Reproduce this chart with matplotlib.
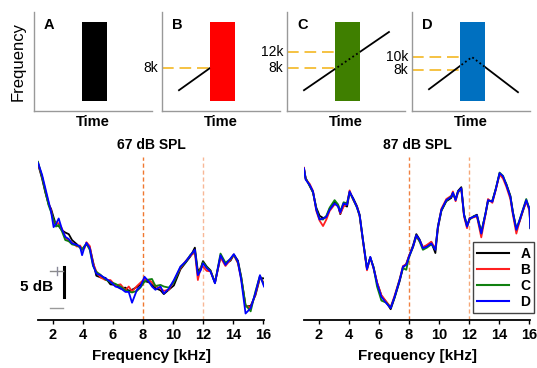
import matplotlib
matplotlib.use('Agg')
import matplotlib.pyplot as plt
from matplotlib.patches import Rectangle

plt.rcParams['font.family'] = ['Liberation Sans', 'DejaVu Sans']

# ---- top schematic panels ----
panel_names = ['A', 'B', 'C', 'D']
bar_colors = ['#000000', '#ff0000', '#3f7f00', '#0070c0']
sweep_x = [None, [1.44, 4.07], [1.44, 8.64], [1.44, 5.08, 8.98]]
sweep_y = [None, [2.1, 4.34], [2.1, 7.98], [2.2, 5.45, 1.9]]
level_labels = [[], ['8k'], ['12k', '8k'], ['10k', '8k']]
level_y = [[], [4.34], [5.96, 4.34], [5.5, 4.1]]
level_end = [[], [4.07], [6.19, 4.07], [5.08, 3.95]]

# ---- bottom spectra (dB, arbitrary offset) ----
left_freq = [1.0, 1.27, 1.49, 1.71, 1.87, 2.04, 2.2, 2.38, 2.6, 2.82,
             3.05, 3.27, 3.6, 3.8, 3.94, 4.1, 4.23, 4.45, 4.67, 4.89,
             5.16, 5.5, 5.83, 6.16, 6.5, 6.83, 7.05, 7.27, 7.6, 7.83,
             8.1, 8.39, 8.6, 8.83, 9.17, 9.39, 9.72, 10.06, 10.5, 10.84,
             11.17, 11.46, 11.66, 11.85, 12.0, 12.25, 12.5, 12.8, 13.17, 13.5,
             13.84, 14.06, 14.33, 14.55, 14.84, 15.18, 15.5, 15.8, 16.07]
left_A = [28.9, 26.2, 23.6, 21.4, 20.6, 19.0, 17.6, 17.4, 16.6, 16.2,
          15.9, 14.8, 14.0, 13.4, 13.0, 13.6, 14.0, 13.5, 10.8, 8.2,
          7.9, 7.8, 6.6, 6.5, 5.8, 6.0, 5.4, 5.6, 6.1, 6.6,
          7.2, 7.0, 6.5, 5.9, 5.5, 4.8, 5.6, 6.4, 9.4, 10.6,
          11.8, 13.4, 9.0, 9.6, 10.9, 9.9, 9.2, 6.9, 11.7, 10.4,
          11.0, 12.1, 11.0, 8.0, 2.5, 2.6, 4.6, 7.8, 7.7]
left_B = [29.0, 26.6, 24.0, 21.6, 20.3, 18.2, 18.0, 17.9, 16.9, 15.3,
          14.6, 14.3, 13.6, 13.8, 13.2, 13.3, 14.4, 13.7, 10.5, 9.0,
          7.9, 7.4, 7.4, 6.4, 6.6, 5.5, 6.2, 5.3, 6.3, 6.9,
          7.6, 7.4, 7.0, 6.3, 5.8, 5.4, 5.6, 7.2, 9.6, 10.9,
          11.9, 12.5, 7.4, 9.8, 9.9, 9.1, 9.0, 7.0, 11.6, 10.0,
          11.2, 12.0, 10.5, 7.6, 2.6, 2.3, 4.8, 8.0, 6.8]
left_C = [29.3, 26.5, 23.8, 21.2, 20.0, 18.6, 17.3, 17.6, 16.4, 14.8,
          14.6, 14.0, 13.8, 13.5, 13.1, 13.7, 14.1, 13.0, 10.0, 8.9,
          8.4, 7.5, 7.0, 6.7, 6.2, 5.5, 5.3, 5.1, 5.4, 6.0,
          7.1, 7.5, 7.6, 6.3, 6.5, 6.2, 6.0, 7.0, 9.8, 10.7,
          12.1, 12.8, 8.6, 9.4, 10.7, 9.8, 9.1, 6.9, 12.3, 10.6,
          11.3, 12.1, 10.7, 7.9, 2.8, 1.6, 5.3, 8.2, 6.5]
left_D = [29.1, 26.9, 24.4, 21.9, 20.1, 17.2, 17.8, 18.8, 16.8, 15.4,
          15.0, 14.2, 13.9, 13.6, 12.0, 13.5, 14.3, 13.3, 10.2, 8.6,
          8.3, 7.7, 7.1, 6.2, 5.9, 5.2, 5.2, 3.2, 5.6, 6.2,
          8.0, 7.1, 6.2, 5.6, 6.2, 4.9, 5.8, 7.4, 9.9, 10.8,
          12.0, 13.0, 8.3, 9.2, 10.5, 9.6, 9.0, 6.8, 12.0, 10.2,
          11.4, 12.2, 10.8, 7.4, 1.2, 2.2, 5.0, 8.3, 6.2]

right_freq = [1.0, 1.11, 1.38, 1.6, 1.82, 2.04, 2.27, 2.49, 2.71, 3.04,
              3.27, 3.42, 3.64, 3.87, 4.04, 4.27, 4.53, 4.71, 4.93, 5.2,
              5.42, 5.64, 5.87, 6.16, 6.49, 6.78, 7.04, 7.38, 7.6, 7.82,
              8.0, 8.27, 8.49, 8.71, 8.93, 9.2, 9.49, 9.76, 9.93, 10.16,
              10.49, 10.82, 10.93, 11.11, 11.27, 11.49, 11.67, 11.87, 12.04, 12.31,
              12.53, 12.82, 13.11, 13.27, 13.56, 13.78, 14.04, 14.27, 14.49, 14.76,
              14.93, 15.16, 15.38, 15.6, 15.82, 16.04, 16.09]
right_A = [28.0, 26.3, 24.8, 23.6, 20.8, 19.3, 18.9, 19.0, 20.6, 21.9,
           21.2, 19.6, 21.4, 21.0, 23.6, 22.6, 21.1, 19.5, 14.9, 9.6,
           11.5, 9.8, 6.9, 4.5, 3.3, 2.0, 4.1, 7.2, 9.7, 10.4,
           11.8, 13.8, 15.9, 14.9, 13.4, 13.8, 14.4, 12.4, 17.0, 20.2,
           22.0, 22.6, 23.4, 22.4, 23.9, 24.6, 19.6, 17.5, 18.6, 19.2,
           19.5, 16.3, 19.7, 22.0, 22.1, 24.2, 27.0, 26.4, 25.2, 23.0,
           20.0, 16.9, 18.3, 20.2, 22.0, 20.6, 17.2]
right_B = [28.2, 26.1, 25.2, 23.9, 20.2, 18.4, 17.4, 18.6, 20.2, 21.4,
           21.3, 19.7, 21.0, 21.5, 24.0, 22.3, 21.0, 19.2, 14.6, 9.2,
           11.6, 9.5, 7.0, 4.6, 3.4, 2.4, 4.5, 7.6, 10.0, 10.3,
           11.9, 13.5, 15.5, 14.6, 13.5, 13.9, 14.5, 13.2, 17.2, 20.6,
           22.4, 23.0, 23.8, 22.0, 23.6, 24.3, 19.2, 17.0, 18.9, 19.0,
           19.2, 15.3, 19.6, 22.4, 21.7, 24.0, 27.0, 26.2, 24.7, 22.4,
           19.5, 16.0, 18.3, 20.3, 22.0, 20.2, 17.1]
right_C = [27.9, 26.2, 24.9, 23.7, 20.6, 18.7, 18.6, 19.3, 20.8, 22.2,
           21.4, 20.1, 21.8, 21.6, 23.7, 22.4, 20.8, 19.3, 14.7, 9.5,
           11.6, 9.7, 6.2, 3.6, 3.2, 2.3, 4.2, 7.5, 9.6, 9.3,
           11.6, 13.5, 15.6, 14.5, 13.0, 13.4, 14.0, 13.1, 17.4, 20.3,
           22.1, 22.9, 23.5, 22.3, 23.7, 24.3, 19.5, 17.4, 18.7, 19.2,
           19.3, 16.1, 19.9, 22.1, 22.0, 24.2, 27.3, 26.7, 25.1, 22.9,
           19.9, 16.8, 18.6, 20.5, 22.4, 20.5, 17.0]
right_D = [28.1, 26.0, 25.0, 23.8, 20.4, 18.6, 18.8, 19.1, 20.4, 21.6,
           21.0, 19.9, 21.6, 21.3, 23.8, 22.5, 20.9, 19.4, 14.8, 9.4,
           11.7, 9.6, 6.8, 4.3, 3.1, 2.2, 4.3, 7.4, 9.9, 10.2,
           11.7, 13.6, 15.7, 14.8, 13.3, 13.6, 14.2, 13.0, 17.3, 20.4,
           22.2, 22.8, 23.6, 22.2, 23.8, 24.4, 19.4, 17.3, 18.8, 19.1,
           19.4, 16.0, 19.8, 22.2, 21.9, 24.1, 27.2, 26.6, 25.0, 22.8,
           19.8, 16.7, 18.5, 20.4, 22.2, 20.4, 17.0]

series_labels = ['A', 'B', 'C', 'D']
series_colors = ['#000000', '#ff2020', '#108010', '#0000ff']
marker_freqs = [8, 12]
freq_ticks = [2, 4, 6, 8, 10, 12, 14, 16]

fig = plt.figure(figsize=(5.37, 3.68), dpi=100)
W, H = 537.0, 368.0

gold = '#f5c242'
top_lefts = [34, 162, 287, 412]
for i, name in enumerate(panel_names):
    ax = fig.add_axes([top_lefts[i] / W, 1 - 111 / H, 118 / W, 99 / H])
    ax.set_xlim(0, 10)
    ax.set_ylim(0, 10)
    for s in ['top', 'right']:
        ax.spines[s].set_visible(False)
    for s in ['left', 'bottom']:
        ax.spines[s].set_color('#999999')
        ax.spines[s].set_linewidth(1.0)
    ax.set_xticks([])
    ax.set_yticks([])
    ax.set_xlabel('Time', fontsize=10.5, fontweight='bold', labelpad=3)
    if i == 0:
        ax.set_ylabel('Frequency', fontsize=12, labelpad=6)
    ax.text(1.3, 8.7, name, fontsize=10.5, fontweight='bold', ha='center', va='center')

    for lab, ly, lx in zip(level_labels[i], level_y[i], level_end[i]):
        ax.plot([0, lx], [ly, ly], color=gold, lw=1.4, dashes=(6, 3), zorder=1)
        ax.text(-0.3, ly, lab, fontsize=10, ha='right', va='center')

    if sweep_x[i] is not None:
        ax.plot(sweep_x[i], sweep_y[i], color='black', lw=1.3, zorder=2)
    bar = Rectangle((4.07, 1.0), 2.12, 8.0, facecolor=bar_colors[i], edgecolor='none', zorder=3)
    ax.add_patch(bar)
    if sweep_x[i] is not None:
        dl, = ax.plot(sweep_x[i], sweep_y[i], color='black', lw=1.3, ls=(0, (1, 1.5)), zorder=4)
        dl.set_clip_path(bar)

# bottom spectra
bottom_lefts = [38, 304]
titles = ['67 dB SPL', '87 dB SPL']
freqs = [left_freq, right_freq]
data = [[left_A, left_B, left_C, left_D], [right_A, right_B, right_C, right_D]]
line_colors = [['#f07830', '#f8b898'], ['#f08040', '#f5a878']]
for j in range(2):
    ax = fig.add_axes([bottom_lefts[j] / W, 1 - 320 / H, 226 / W, 168 / H])
    ax.set_xlim(1, 16.07)
    ax.set_ylim(0, 168 / 5.4)
    for s in ['top', 'right', 'left']:
        ax.spines[s].set_visible(False)
    ax.spines['bottom'].set_linewidth(1.3)
    ax.set_yticks([])
    ax.set_xticks(freq_ticks)
    ax.tick_params(axis='x', length=3, width=1, pad=3)
    for t in ax.get_xticklabels():
        t.set_fontweight('bold')
        t.set_fontsize(10.5)
    ax.set_xlabel('Frequency [kHz]', fontsize=11, fontweight='bold', labelpad=5)
    ax.set_title(titles[j], fontsize=10, fontweight='bold', pad=-5)
    for k, f in enumerate(marker_freqs):
        ax.axvline(f, ymax=0.97, color=line_colors[j][k], lw=1.0, dashes=(3, 2), zorder=1)
    for vals, lab, c in zip(data[j], series_labels, series_colors):
        ax.plot(freqs[j], vals, color=c, lw=1.3, label=lab, zorder=2)
    if j == 0:
        # 5 dB scale bar
        ax.plot([2.74, 2.74], [4.26, 9.81], color='black', lw=2.2, clip_on=False)
        ax.plot([1.8, 2.67], [9.07, 9.07], color='#8a8a8a', lw=1.0, clip_on=False)
        ax.plot([2.27, 2.27], [8.33, 9.81], color='#8a8a9a', lw=1.0, clip_on=False)
        ax.plot([1.8, 2.67], [2.22, 2.22], color='#9a9a9a', lw=1.0, clip_on=False)
        ax.text(2.0, 6.1, '5 dB', fontsize=11, fontweight='bold', ha='right', va='center')
    else:
        leg = ax.legend(loc='lower right', bbox_to_anchor=(1.05, 0.0), fancybox=False,
                        framealpha=1, edgecolor='#444444', handlelength=2.3,
                        labelspacing=0.15, borderpad=0.3, handletextpad=0.8,
                        prop={'weight': 'bold', 'size': 10})
        leg.get_frame().set_linewidth(1.0)
        for h in leg.get_lines():
            h.set_linewidth(1.5)

fig.savefig('out.png', dpi=100)
